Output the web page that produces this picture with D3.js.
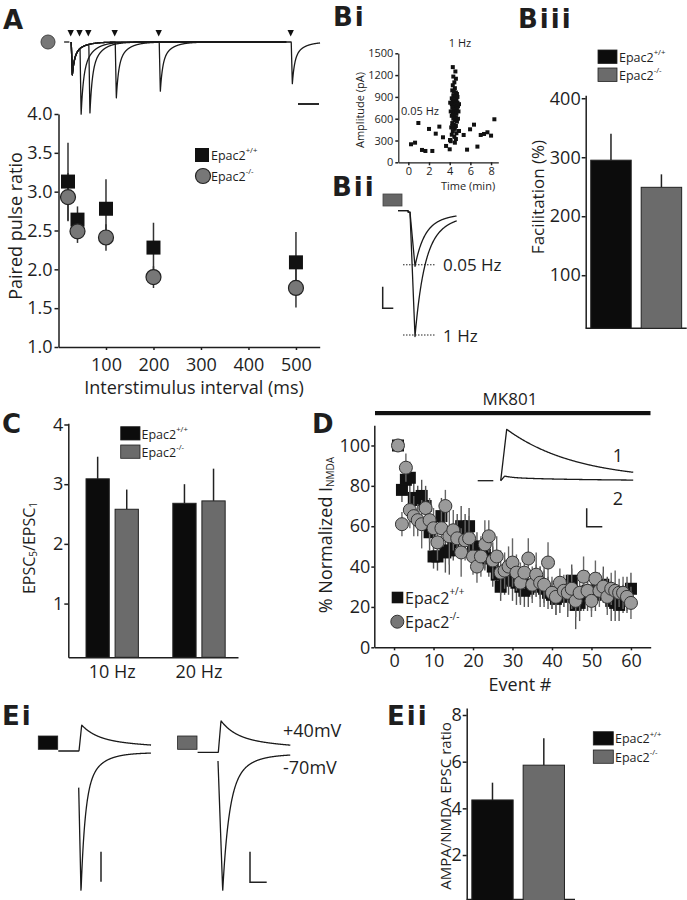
<!DOCTYPE html>
<html><head><meta charset="utf-8">
<script src="https://cdn.jsdelivr.net/npm/d3@7"></script>
<style>
body{margin:0;background:#fff}
svg{display:block;background:#fff}
text{font-family:'Open Sans','Noto Sans',sans-serif;fill:#1e1e1e}
</style>
</head><body><script>
// ================= DATA =================
// Panel A: paired pulse ratio
const ppIntervals=[20,40,100,200,500];
const ppWT=[3.13,2.64,2.78,2.28,2.09];
const ppWTErr=[0.50,0.17,0.38,0.32,0.39];
const ppKO=[2.93,2.49,2.41,1.90,1.76];
const ppKOErr=[0.31,0.15,0.17,0.14,0.25];
const ppYTicks=[1.0,1.5,2.0,2.5,3.0,3.5,4.0];
const ppXTicks=[100,200,300,400,500];
// Panel A example traces (stimulus times, ms; second EPSC relative amplitudes)
const aStimTimes=[0,20,40,100,200,500];
const aPeak2=[2.03,2.1,1.7,1.5,1.27];

// Panel Bi: amplitude vs time
const biLowT=[0.26,0.65,0.97,1.32,1.65,2.0,2.32,2.65,3.0,3.35,3.65,4.0,4.03,4.9,5.35,5.68,5.97,6.35,6.68,7.0,7.32,7.65,8.0,8.32];
const biLowV=[248,270,541,170,156,459,156,394,491,344,225,179,307,431,376,174,454,518,216,376,390,413,367,592];
const biHighT=[4.30,4.55,4.35,4.60,4.45,4.30,4.50,4.25,4.40,4.60,4.70,4.35,4.50,4.20,4.65,4.40,4.55,4.30,4.75,4.45,4.20,4.60,4.35,4.80,4.50,4.25,4.70,4.40,4.55,4.30,4.65,4.45,4.20,4.60,4.35,4.50,4.70,4.25,4.40,4.60,4.15,4.50,4.30,4.65,4.20,4.45,4.60,4.10,4.80,4.85,4.75,4.90,4.10,4.05,4.25,4.50];
const biHighV=[1310,1250,1180,1150,1100,1060,1020,990,970,960,940,920,900,880,870,850,840,830,820,810,800,790,780,770,760,750,740,720,700,690,670,650,640,620,600,580,560,540,520,500,480,460,430,400,380,350,320,290,600,700,900,800,700,820,500,270];
const biYTicks=[0,300,600,900,1200,1500];
const biXTicks=[0,2,4,6,8];

// Panel Bii: example traces (relative peak amplitude)
const biiLabels=['0.05 Hz','1 Hz'];
const biiAmp=[0.435,1.0];

// Genotypes
const genoKeys=['wt','ko'];
const genoSup=['+/+','-/-'];

// Panel Biii: facilitation (%)
const biiiVals=[295,249];
const biiiErr=[45,22];
const biiiTicks=[100,200,300,400];

// Panel C: EPSC5/EPSC1
const cFreqs=['10 Hz','20 Hz'];
const cWT=[3.09,2.68];
const cWTErr=[0.37,0.32];
const cKO=[2.58,2.72];
const cKOErr=[0.33,0.54];
const cTicks=[1,2,3,4];

// Panel D: % normalized I_NMDA per event
const dWT=[100,78,83,84,74,73,75,70,57,45, 45,65,47,48,52,58,60,59,60,50, 48,47,46,44,40,36,30,35,34,33, 32,30,28,29,31,33,30,29,27,26, 24,26,27,25,33,21,22,25,28,27, 26,30,31,27,23,22,21,24,26,29];
const dWTErr=[0,6,5,8,9,7,8,10,9,6, 7,9,10,12,9,8,10,7,9,8, 9,7,8,9,10,8,7,9,8,10, 11,9,8,9,7,8,10,9,8,7, 8,9,7,10,8,12,9,7,10,9, 8,7,9,8,10,9,8,7,9,8];
const dKO=[100,61,89,68,65,63,61,69,63,59, 52,59,70,55,58,54,47,53,54,45, 40,45,51,55,43,45,37,38,40,42, 37,32,37,44,31,36,32,31,42,27, 25,32,28,27,29,23,27,35,28,23, 34,28,30,25,29,28,27,27,25,22];
const dKOErr=[0,6,7,9,10,8,12,9,11,10, 9,9,8,14,10,9,12,10,11,9, 8,10,12,8,9,10,11,9,10,12, 9,10,8,10,9,11,8,9,10,8, 9,7,8,9,10,8,9,10,7,8, 9,8,7,9,8,10,7,8,7,8];
const dYTicks=[0,20,40,60,80,100];
const dXTicks=[0,10,20,30,40,50,60];
const dInsetAmp=[1.0,0.09];

// Panel Ei: example traces (relative amplitudes at +40 / -70 mV)
const eiAmpPos=[0.186,0.226];
const eiAmpNeg=[-1.0,-0.98];
const eiBase=[0,-0.01];
const eiHold=['+40mV','-70mV'];

// Panel Eii: AMPA/NMDA ratio
const eiiVals=[4.36,5.85];
const eiiErr=[0.74,1.15];
const eiiTicks=[2,4,6,8];

// ================= DRAWING =================
const INK='#1e1e1e', WTF='#0c0c0c', KOF='#6b6b6b';
const FONT="'Open Sans','Noto Sans',sans-serif";
const svg=d3.select('body').append('svg').attr('width',687).attr('height',900);

function styleAxis(g,fs){
  g.attr('font-family',null).attr('font-size',null);
  g.select('.domain').attr('stroke',INK).attr('stroke-width',1.5);
  g.selectAll('.tick line').attr('stroke',INK).attr('stroke-width',1.5);
  g.selectAll('.tick text').style('font-family',FONT).style('font-size',fs+'px').attr('fill',INK);
}
function panelLabel(t,x,y){
  svg.append('text').attr('x',x).attr('y',y).text(t)
    .style('font-family',"'DejaVu Sans',sans-serif").style('font-weight','bold')
    .style('font-size','26px').style('letter-spacing','2px')
    .attr('fill','#000');
}
function txt(x,y,s,fs,anchor){
  return svg.append('text').attr('x',x).attr('y',y).attr('dominant-baseline','central')
    .attr('text-anchor',anchor||'start').style('font-size',fs+'px').text(s);
}
function vtext(x,y,fs){
  return svg.append('text').attr('transform',`translate(${x},${y}) rotate(-90)`)
    .attr('text-anchor','middle').attr('dominant-baseline','central').style('font-size',fs+'px');
}
function legendText(x,y,fs,sup){
  const t=svg.append('text').attr('x',x).attr('y',y).attr('dominant-baseline','central').style('font-size',fs+'px');
  t.append('tspan').text('Epac2');
  t.append('tspan').text(sup).style('font-size',(fs*0.62)+'px').attr('dy',-fs*0.38);
}
function epsc(t,t0,amp,rise,comps){
  const s=t-t0; if(s<=0) return 0;
  if(s<rise) return amp*s/rise;
  const u=s-rise; return amp*d3.sum(comps,c=>c[0]*Math.exp(-u/c[1]));
}
const traceStyle=p=>p.attr('fill','none').attr('stroke','#1a1a1a').attr('stroke-width',1.3).attr('stroke-linejoin','round');
const fmtInt=d3.format('d');

// ---------- Panel labels ----------
panelLabel('A',3,29);
panelLabel('Bi',333,26);
panelLabel('Biii',518,28);
panelLabel('Bii',332,196);
panelLabel('C',2,433);
panelLabel('D',312,433);
panelLabel('Ei',2,725);
panelLabel('Eii',387,725);

// ---------- Panel A ----------
{
  const xA=d3.scaleLinear().domain([0,550]).range([58.5,319.7]);
  const yA=d3.scaleLinear().domain([1,4]).range([347,114]);
  styleAxis(svg.append('g').attr('transform','translate(58.5,0)')
    .call(d3.axisLeft(yA).tickValues(ppYTicks).tickFormat(d3.format('.1f')).tickSize(4).tickPadding(2).tickSizeOuter(0)),18);
  styleAxis(svg.append('g').attr('transform','translate(0,347)')
    .call(d3.axisBottom(xA).tickValues(ppXTicks).tickFormat(fmtInt).tickSize(3).tickPadding(8).tickSizeOuter(0)),18);
  txt(194,387,'Interstimulus interval (ms)',18,'middle');
  vtext(15,226,18).text('Paired pulse ratio');
  const g=svg.append('g');
  g.selectAll('line.ew').data(ppIntervals).join('line')
    .attr('x1',d=>xA(d)).attr('x2',d=>xA(d))
    .attr('y1',(d,i)=>yA(ppWT[i]+ppWTErr[i])).attr('y2',(d,i)=>yA(ppWT[i]-ppWTErr[i]))
    .attr('stroke','#333').attr('stroke-width',1.5);
  g.selectAll('line.ek').data(ppIntervals).join('line')
    .attr('x1',d=>xA(d)).attr('x2',d=>xA(d))
    .attr('y1',(d,i)=>yA(ppKO[i]+ppKOErr[i])).attr('y2',(d,i)=>yA(ppKO[i]-ppKOErr[i]))
    .attr('stroke','#333').attr('stroke-width',1.5);
  g.selectAll('rect.m').data(ppIntervals).join('rect')
    .attr('x',d=>xA(d)-7).attr('y',(d,i)=>yA(ppWT[i])-7).attr('width',14).attr('height',14).attr('fill','#111');
  g.selectAll('circle.m').data(ppIntervals).join('circle')
    .attr('cx',d=>xA(d)).attr('cy',(d,i)=>yA(ppKO[i])).attr('r',7.5)
    .attr('fill','#777').attr('stroke','#222').attr('stroke-width',1.2);
  // legend
  svg.append('rect').attr('x',195).attr('y',148).attr('width',14).attr('height',14).attr('fill','#111');
  legendText(211,155,12.5,genoSup[0]);
  svg.append('circle').attr('cx',203).attr('cy',176).attr('r',7.5).attr('fill','#777').attr('stroke','#222').attr('stroke-width',1.2);
  legendText(211,176,12.5,genoSup[1]);
  // example traces
  svg.append('circle').attr('cx',48).attr('cy',42).attr('r',7).attr('fill','#777').attr('stroke','#444');
  const xTA=d3.scaleLinear().domain([0,500]).range([70.7,290.7]);
  const yTA=d3.scaleLinear().domain([0,1]).range([42,75]);
  const aDecay=[[0.6,5],[0.4,22]];
  svg.append('line').attr('x1',xTA(-15)).attr('x2',xTA(-3)).attr('y1',yTA(0)).attr('y2',yTA(0)).attr('stroke','#1a1a1a').attr('stroke-width',1.3);
  aPeak2.forEach((p,i)=>{
    const iv=ppIntervals[i]; const tEnd=iv===500?567:490;
    const ts=d3.range(1,tEnd,0.25);
    const ln=d3.line().x(t=>xTA(t)).y(t=>yTA(epsc(t,1.2,1,2.5,aDecay)+epsc(t,iv+1.2,p,2.5,aDecay)));
    svg.append('path').attr('d',ln(ts)).call(traceStyle);
  });
  svg.selectAll('path.arrow').data(aStimTimes).join('path')
    .attr('d',d=>{const x=xTA(d);return `M${x-3.2},30 L${x+3.2},30 L${x},36.5 Z`;}).attr('fill','#111');
  svg.append('line').attr('x1',298).attr('x2',319).attr('y1',104).attr('y2',104).attr('stroke','#111').attr('stroke-width',1.8);
}

// ---------- Panel Bi ----------
{
  const x=d3.scaleLinear().domain([-0.97,8.7]).range([398.3,498.3]);
  const y=d3.scaleLinear().domain([0,1500]).range([162.3,53.3]);
  const ga=svg.append('g').attr('transform','translate(398.3,0)')
    .call(d3.axisLeft(y).tickValues(biYTicks).tickFormat(fmtInt).tickSize(3).tickPadding(2).tickSizeOuter(0));
  styleAxis(ga,11);
  const gb=svg.append('g').attr('transform','translate(0,162.3)')
    .call(d3.axisBottom(x).tickValues(biXTicks).tickFormat(fmtInt).tickSize(3).tickPadding(2).tickSizeOuter(0));
  styleAxis(gb,11);
  ga.select('.domain').attr('stroke-width',1.2); gb.select('.domain').attr('stroke-width',1.2);
  vtext(359,110,11).text('Amplitude (pA)');
  txt(468,185,'Time (min)',11,'middle');
  txt(460,42,'1 Hz',11,'middle');
  txt(420,110,'0.05 Hz',11,'middle');
  const g=svg.append('g');
  g.selectAll('rect.lo').data(biLowT).join('rect')
    .attr('x',d=>x(d)-2).attr('y',(d,i)=>y(biLowV[i])-2).attr('width',4).attr('height',4).attr('fill','#111');
  g.selectAll('rect.hi').data(biHighT).join('rect')
    .attr('x',d=>x(d)-2).attr('y',(d,i)=>y(biHighV[i])-2).attr('width',4).attr('height',4).attr('fill','#111');
}

// ---------- Panel Bii ----------
{
  svg.append('rect').attr('x',383).attr('y',194).attr('width',19).attr('height',12).attr('fill','#666').attr('stroke','#444').attr('stroke-width',0.8);
  const x=d3.scaleLinear().domain([-11,48]).range([398,457]);
  const y=d3.scaleLinear().domain([0,1]).range([210.7,335]);
  const dec=[[0.75,9],[0.25,30]];
  biiAmp.forEach((a,i)=>{
    const ts=d3.range(-11,47.7+i*0.3,0.25);
    const ln=d3.line().x(t=>x(t)).y(t=>y((t>-1?0.012:0)+epsc(t,1,a,5,dec)));
    svg.append('path').attr('d',ln(ts)).call(traceStyle);
    svg.append('line').attr('x1',403).attr('x2',436).attr('y1',y(a)).attr('y2',y(a))
      .attr('stroke','#222').attr('stroke-width',1).attr('stroke-dasharray','1.5,1.5');
    txt(443,y(a),biiLabels[i],17);
  });
  svg.append('path').attr('d','M382.7,286.7 L382.7,308.3 L393.3,308.3').attr('fill','none').attr('stroke','#222').attr('stroke-width',1.5);
}

// ---------- Panel Biii ----------
{
  const y=d3.scaleLinear().domain([10,405]).range([328.3,95.3]);
  const x=d3.scaleBand().domain(genoKeys).range([585.7,686.7]).paddingInner(0.198).paddingOuter(0.1);
  styleAxis(svg.append('g').attr('transform','translate(585.7,0)')
    .call(d3.axisLeft(y).tickValues(biiiTicks).tickFormat(fmtInt).tickSize(4).tickPadding(1).tickSizeOuter(0)),18);
  svg.append('line').attr('x1',585.7).attr('x2',686.7).attr('y1',328.3).attr('y2',328.3).attr('stroke',INK).attr('stroke-width',1.5);
  vtext(537,197,17).text('Facilitation (%)');
  const g=svg.append('g');
  g.selectAll('line').data(genoKeys).join('line')
    .attr('x1',d=>x(d)+x.bandwidth()/2).attr('x2',d=>x(d)+x.bandwidth()/2)
    .attr('y1',(d,i)=>y(biiiVals[i])).attr('y2',(d,i)=>y(biiiVals[i]+biiiErr[i]))
    .attr('stroke','#222').attr('stroke-width',1.5);
  g.selectAll('rect').data(genoKeys).join('rect')
    .attr('x',d=>x(d)).attr('width',x.bandwidth())
    .attr('y',(d,i)=>y(biiiVals[i])).attr('height',(d,i)=>y(10)-y(biiiVals[i]))
    .attr('fill',(d,i)=>i?KOF:WTF).attr('stroke','#222').attr('stroke-width',1);
  [0,1].forEach(i=>{
    svg.append('rect').attr('x',598).attr('y',50+i*18).attr('width',19).attr('height',13.5).attr('fill',i?KOF:WTF).attr('stroke','#222').attr('stroke-width',0.8);
    legendText(619,57+i*18,12.5,genoSup[i]);
  });
}

// ---------- Panel C ----------
{
  const y=d3.scaleLinear().domain([0.1,4.02]).range([657.3,423.3]);
  const gx=d3.scaleBand().domain(cFreqs).range([68.3,238]).paddingInner(0.397).paddingOuter(0.176).align(0.58);
  const sx=d3.scaleBand().domain(genoKeys).range([0,gx.bandwidth()]).paddingInner(0.2);
  styleAxis(svg.append('g').attr('transform','translate(68.3,0)')
    .call(d3.axisLeft(y).tickValues(cTicks).tickFormat(fmtInt).tickSize(4).tickPadding(1).tickSizeOuter(0)),18);
  styleAxis(svg.append('g').attr('transform','translate(0,657.3)')
    .call(d3.axisBottom(gx).tickSize(0).tickPadding(8).tickSizeOuter(0)),18);
  const t=vtext(29,548,16);
  t.append('tspan').text('EPSC');
  t.append('tspan').text('5').style('font-size','10px').attr('dy',4);
  t.append('tspan').text('/EPSC').attr('dy',-4);
  t.append('tspan').text('1').style('font-size','10px').attr('dy',4);
  const series=[[cWT,cWTErr],[cKO,cKOErr]];
  const g=svg.append('g');
  series.forEach(([vals,errs],k)=>{
    g.selectAll('line.e'+k).data(cFreqs).join('line')
      .attr('x1',d=>gx(d)+sx(genoKeys[k])+sx.bandwidth()/2).attr('x2',d=>gx(d)+sx(genoKeys[k])+sx.bandwidth()/2)
      .attr('y1',(d,i)=>y(vals[i])).attr('y2',(d,i)=>y(vals[i]+errs[i]))
      .attr('stroke','#222').attr('stroke-width',1.5);
    g.selectAll('rect.b'+k).data(cFreqs).join('rect')
      .attr('x',d=>gx(d)+sx(genoKeys[k])).attr('width',sx.bandwidth())
      .attr('y',(d,i)=>y(vals[i])).attr('height',(d,i)=>y(0.1)-y(vals[i]))
      .attr('fill',k?KOF:WTF).attr('stroke','#222').attr('stroke-width',1);
  });
  [0,1].forEach(i=>{
    svg.append('rect').attr('x',120.7).attr('y',426.7+i*18.3).attr('width',19.3).attr('height',13.3).attr('fill',i?KOF:WTF).attr('stroke','#222').attr('stroke-width',0.8);
    legendText(141.5,433.5+i*18.3,12.5,genoSup[i]);
  });
}

// ---------- Panel D ----------
{
  const x=d3.scaleLinear().domain([-5,65]).range([374.3,650.7]);
  const y=d3.scaleLinear().domain([0,110]).range([647.3,425.3]);
  const ev=d3.range(1,dWT.length+1);
  styleAxis(svg.append('g').attr('transform','translate(374.3,0)')
    .call(d3.axisLeft(y).tickValues(dYTicks).tickFormat(fmtInt).tickSize(3).tickPadding(1).tickSizeOuter(0)),18);
  styleAxis(svg.append('g').attr('transform','translate(0,647.3)')
    .call(d3.axisBottom(x).tickValues(dXTicks).tickFormat(fmtInt).tickSize(3).tickPadding(4).tickSizeOuter(0)),18);
  txt(520,684,'Event #',18,'middle');
  const t=vtext(325,535,18);
  t.append('tspan').text('% Normalized I');
  t.append('tspan').text('NMDA').style('font-size','10px').attr('dy',5);
  txt(510,398,'MK801',17,'middle');
  svg.append('rect').attr('x',375).attr('y',411).attr('width',275.5).attr('height',4.2).attr('fill','#111');
  const g=svg.append('g');
  g.selectAll('line.ew').data(ev).join('line')
    .attr('x1',d=>x(d)).attr('x2',d=>x(d))
    .attr('y1',(d,i)=>y(dWT[i]+dWTErr[i])).attr('y2',(d,i)=>y(dWT[i]-dWTErr[i]))
    .attr('stroke','#555').attr('stroke-width',1.4);
  g.selectAll('rect.m').data(ev).join('rect')
    .attr('x',d=>x(d)-6).attr('y',(d,i)=>y(dWT[i])-6).attr('width',12).attr('height',12).attr('fill','#111');
  g.selectAll('line.ek').data(ev).join('line')
    .attr('x1',d=>x(d)).attr('x2',d=>x(d))
    .attr('y1',(d,i)=>y(dKO[i]+dKOErr[i])).attr('y2',(d,i)=>y(dKO[i]-dKOErr[i]))
    .attr('stroke','#666').attr('stroke-width',1.4);
  g.selectAll('circle.m').data(ev).join('circle')
    .attr('cx',d=>x(d)).attr('cy',(d,i)=>y(dKO[i])).attr('r',6.5)
    .attr('fill','#9a9a9a').attr('stroke','#333').attr('stroke-width',1);
  // legend
  svg.append('rect').attr('x',391.7).attr('y',591.7).attr('width',11.6).attr('height',11.6).attr('fill','#111');
  legendText(405,597.5,16,genoSup[0]);
  svg.append('circle').attr('cx',397.3).attr('cy',621.7).attr('r',6.5).attr('fill','#777').attr('stroke','#333');
  legendText(405,621.7,16,genoSup[1]);
  // inset traces
  const xi=d3.scaleLinear().domain([0,132.6]).range([500.7,633.3]);
  const yi=d3.scaleLinear().domain([0,1]).range([480.7,429.3]);
  svg.append('line').attr('x1',xi(-23)).attr('x2',xi(-7.4)).attr('y1',yi(0)).attr('y2',yi(0)).call(traceStyle);
  const dec=[[[1,70]],[[0.33,8],[0.67,80]]];
  dInsetAmp.forEach((a,i)=>{
    const ts=d3.range(0,132.6,0.5);
    const ln=d3.line().x(t=>xi(t)).y(t=>yi(epsc(t,0,a,i?4:6,dec[i])));
    svg.append('path').attr('d',ln(ts)).call(traceStyle);
  });
  txt(618,455,'1',18,'middle');
  txt(618,498,'2',18,'middle');
  svg.append('path').attr('d','M586.7,508.3 L586.7,526.7 L602.3,526.7').attr('fill','none').attr('stroke','#222').attr('stroke-width',1.5);
}

// ---------- Panel Ei ----------
{
  const y=d3.scaleLinear().domain([0,-1]).range([752,891.7]);
  const starts=[78.7,218];
  const negStart=[-0.25,-0.05];
  const negDec=[[[0.7,4],[0.3,15]],[[0.7,6],[0.3,18]]];
  const posDec=[[0.55,15],[0.45,100]];
  [0,1].forEach(i=>{
    const x=d3.scaleLinear().domain([0,1]).range([starts[i],starts[i]+1]);
    // +40 mV
    const tp=d3.range(-20.4,72.5,0.25);
    const lp=d3.line().x(t=>x(t)).y(t=>y(eiBase[i]+0.007+epsc(t,0.3,eiAmpPos[i],2.7,posDec)));
    svg.append('path').attr('d',lp(tp)).call(traceStyle);
    // -70 mV
    const pk=i?4.7:2.3;
    const tn=d3.range(0,72.5,0.25);
    const ln=d3.line().x(t=>x(t)).y(t=>{
      const base=eiBase[i]-0.005;
      if(t<pk) return y(base+negStart[i]+(eiAmpNeg[i]-negStart[i])*t/pk);
      const u=t-pk; return y(base+eiAmpNeg[i]*d3.sum(negDec[i],c=>c[0]*Math.exp(-u/c[1])));
    });
    svg.append('path').attr('d',ln(tn)).call(traceStyle);
    svg.append('rect').attr('x',starts[i]-40.4).attr('y',736).attr('width',19.4).attr('height',13.3)
      .attr('fill',i?KOF:WTF).attr('stroke','#222').attr('stroke-width',0.8);
  });
  svg.append('line').attr('x1',101).attr('x2',101).attr('y1',851.7).attr('y2',881.7).attr('stroke','#222').attr('stroke-width',1.5);
  svg.append('path').attr('d','M250,851.7 L250,882.3 L266.7,882.3').attr('fill','none').attr('stroke','#222').attr('stroke-width',1.5);
  txt(283,730,eiHold[0],18);
  txt(283,767,eiHold[1],18);
}

// ---------- Panel Eii ----------
{
  const y=d3.scaleLinear().domain([0,8.3]).range([901.7,708]);
  const x=d3.scaleBand().domain(genoKeys).range([466.7,569.6]).paddingInner(0.195).paddingOuter(0.1);
  const ga=svg.append('g').attr('transform','translate(466.7,0)')
    .call(d3.axisLeft(y).tickValues(eiiTicks).tickFormat(fmtInt).tickSize(4).tickPadding(1).tickSizeOuter(0));
  styleAxis(ga,18);
  svg.append('line').attr('x1',466.7).attr('x2',575).attr('y1',899.5).attr('y2',899.5).attr('stroke',INK).attr('stroke-width',1.5);
  vtext(445,806,15).text('AMPA/NMDA EPSC ratio');
  const g=svg.append('g');
  g.selectAll('line').data(genoKeys).join('line')
    .attr('x1',d=>x(d)+x.bandwidth()/2).attr('x2',d=>x(d)+x.bandwidth()/2)
    .attr('y1',(d,i)=>y(eiiVals[i])).attr('y2',(d,i)=>y(eiiVals[i]+eiiErr[i]))
    .attr('stroke','#222').attr('stroke-width',1.5);
  g.selectAll('rect').data(genoKeys).join('rect')
    .attr('x',d=>x(d)).attr('width',x.bandwidth())
    .attr('y',(d,i)=>y(eiiVals[i])).attr('height',(d,i)=>y(0)-y(eiiVals[i]))
    .attr('fill',(d,i)=>i?KOF:WTF).attr('stroke','#222').attr('stroke-width',1);
  [0,1].forEach(i=>{
    svg.append('rect').attr('x',593.3).attr('y',731.7+i*18.3).attr('width',20).attr('height',13.3).attr('fill',i?KOF:WTF).attr('stroke','#222').attr('stroke-width',0.8);
    legendText(615,738.3+i*18.3,12.5,genoSup[i]);
  });
}
</script></body></html>
